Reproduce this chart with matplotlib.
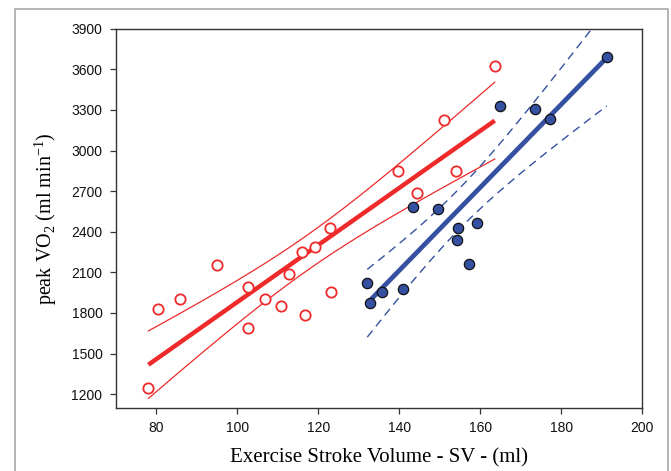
import numpy as np
import matplotlib
matplotlib.use("Agg")
import matplotlib.pyplot as plt
from matplotlib.lines import Line2D

plt.rcParams["mathtext.fontset"] = "custom"
plt.rcParams["mathtext.rm"] = "Liberation Serif"

# red group (open circles)
red_sv = [78.0, 80.4, 85.8, 95.0, 102.5, 102.7, 106.8, 110.8, 112.8, 116.0,
          116.6, 119.3, 122.9, 123.2, 139.6, 144.5, 151.0, 154.0, 163.6]
red_vo2 = [1246, 1831, 1901, 2154, 1992, 1687, 1901, 1851, 2090, 2253,
           1785, 2289, 2430, 1957, 2851, 2684, 3223, 2851, 3624]

# blue group (filled circles)
blue_sv = [132.1, 132.8, 135.7, 141.0, 143.3, 149.6, 154.4, 154.2, 159.2,
           157.2, 164.8, 173.6, 177.3, 191.3]
blue_vo2 = [2024, 1871, 1957, 1975, 2583, 2568, 2425, 2339, 2462,
            2162, 3331, 3304, 3231, 3693]

x_ticks = [80, 100, 120, 140, 160, 180, 200]
y_ticks = [1200, 1500, 1800, 2100, 2400, 2700, 3000, 3300, 3600, 3900]

RED = "#ee2a2a"
BLUE = "#3550a0"


def fit_with_band(x, y, t_val):
    """Linear fit plus 95% confidence band of the mean."""
    x = np.asarray(x, float)
    y = np.asarray(y, float)
    n = len(x)
    b, a = np.polyfit(x, y, 1)
    resid = y - (a + b * x)
    s = np.sqrt(np.sum(resid ** 2) / (n - 2))
    xs = np.linspace(x.min(), x.max(), 200)
    ys = a + b * xs
    se = s * np.sqrt(1.0 / n + (xs - x.mean()) ** 2 / np.sum((x - x.mean()) ** 2))
    return xs, ys, ys - t_val * se, ys + t_val * se


fig = plt.figure(figsize=(6.71, 4.71), dpi=100)
ax = fig.add_axes([0.1729, 0.1344, 0.9568 - 0.1729, 0.939 - 0.1344])

# light grey frame around the figure (open at the bottom)
fl, fr, ft = 14.5 / 671, 667.5 / 671, 1 - 8.5 / 471
frame = Line2D([fl, fl, fr, fr], [0, ft, ft, 0], transform=fig.transFigure,
               color="#a8a8a8", linewidth=1.2)
fig.lines.append(frame)

xs, ys, lo, hi = fit_with_band(red_sv, red_vo2, 2.110)
ax.plot(xs, ys, color=RED, lw=3.2, solid_capstyle="butt", zorder=2)
ax.plot(xs, lo, color=RED, lw=0.9, zorder=2)
ax.plot(xs, hi, color=RED, lw=0.9, zorder=2)

xs, ys, lo, hi = fit_with_band(blue_sv, blue_vo2, 2.179)
ax.plot(xs, ys, color=BLUE, lw=3.4, solid_capstyle="butt", zorder=2)
ax.plot(xs, lo, color=BLUE, lw=1.0, dashes=(6, 4), zorder=2)
ax.plot(xs, hi, color=BLUE, lw=1.0, dashes=(6, 4), zorder=2)

ax.scatter(red_sv, red_vo2, s=55, facecolors="white", edgecolors=RED,
           linewidths=1.3, zorder=3)
ax.scatter(blue_sv, blue_vo2, s=55, facecolors=BLUE, edgecolors="#111111",
           linewidths=0.9, zorder=3)

ax.set_xlim(70, 200)
ax.set_ylim(1100, 3900)
ax.set_xticks(x_ticks)
ax.set_yticks(y_ticks)

for sp in ax.spines.values():
    sp.set_color("#333333")
    sp.set_linewidth(1.0)
ax.tick_params(direction="out", length=4.3, width=0.9, color="#333333",
               labelsize=10, pad=5.5)
for lab in ax.get_xticklabels() + ax.get_yticklabels():
    lab.set_family("Liberation Sans")
    lab.set_color("#111111")

ax.set_xlabel("Exercise Stroke Volume - SV - (ml)", family="Liberation Serif",
              fontsize=15, labelpad=9)
ax.set_ylabel(r"peak VO$_\mathrm{2}$ (ml min$^\mathrm{-1}$)",
              family="Liberation Serif", fontsize=14.5, labelpad=9)

fig.savefig("out.png", dpi=100)
